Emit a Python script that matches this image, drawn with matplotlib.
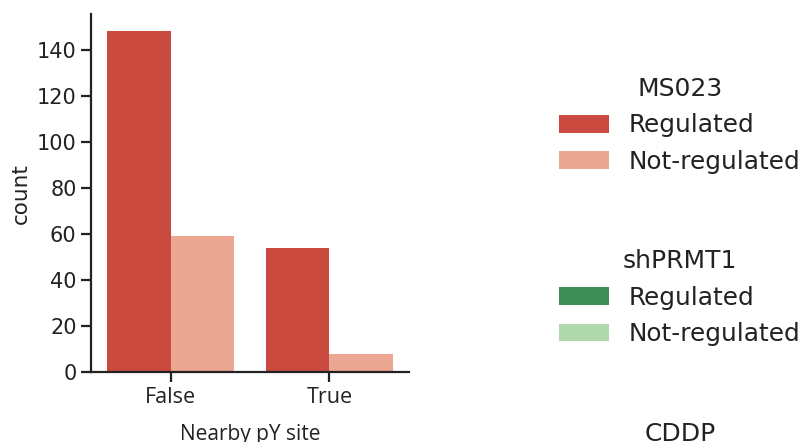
import matplotlib
matplotlib.use("Agg")
import matplotlib.pyplot as plt
from matplotlib.patches import Patch
import numpy as np

# Counts of sites by nearby phospho-tyrosine status, split by regulation
categories = ["False", "True"]
hue_levels = ["Regulated", "Not-regulated"]
ms023_counts = {"Regulated": [148, 54], "Not-regulated": [59, 8]}

legend_groups = ["MS023", "shPRMT1", "CDDP"]
palettes = {
    "MS023": ["#cb4a40", "#eca793"],
    "shPRMT1": ["#3d8f57", "#b1d9ae"],
    "CDDP": ["#4a7fb8", "#a9c8e2"],
}

fig = plt.figure(figsize=(8, 4.42), dpi=100)
ax = fig.add_axes([0.114, 0.158, 0.397, 0.81])

x = np.arange(len(categories))
width = 0.4
for i, level in enumerate(hue_levels):
    ax.bar(x + (i - 0.5) * width, ms023_counts[level], width=width,
           color=palettes["MS023"][i], edgecolor="none")

ax.set_xlim(-0.5, 1.5)
ax.set_ylim(0, 155.5)
ax.set_yticks(np.arange(0, 141, 20))
ax.set_xticks(x)
ax.set_xticklabels(categories, family="Open Sans", fontsize=15.5)
ax.tick_params(axis="y", labelsize=15, length=7, width=1.6, colors="#222222")
ax.tick_params(axis="x", length=7, width=1.6, colors="#222222")
ax.set_ylabel("count", fontsize=15.5, color="#222222")
ax.set_xlabel("Nearby pY site", family="Open Sans", fontsize=15,
              color="#222222", labelpad=12)
for side in ("top", "right"):
    ax.spines[side].set_visible(False)
for side in ("left", "bottom"):
    ax.spines[side].set_linewidth(1.6)
    ax.spines[side].set_color("#222222")

# One stacked legend per treatment on the right-hand side
anchors = [0.876, 0.486, 0.096]
for grp, ya in zip(legend_groups, anchors):
    handles = [Patch(facecolor=c, edgecolor="none") for c in palettes[grp]]
    leg = fig.legend(handles, hue_levels, title=grp, loc="upper left",
                     bbox_to_anchor=(0.6715, ya), frameon=False,
                     fontsize=17.8, title_fontsize=18,
                     handlelength=2.0, handleheight=0.72,
                     handletextpad=0.8, labelspacing=0.5)
    for t in leg.get_texts():
        t.set_color("#222222")
    leg.get_title().set_color("#222222")

fig.savefig("out.png", dpi=100)
